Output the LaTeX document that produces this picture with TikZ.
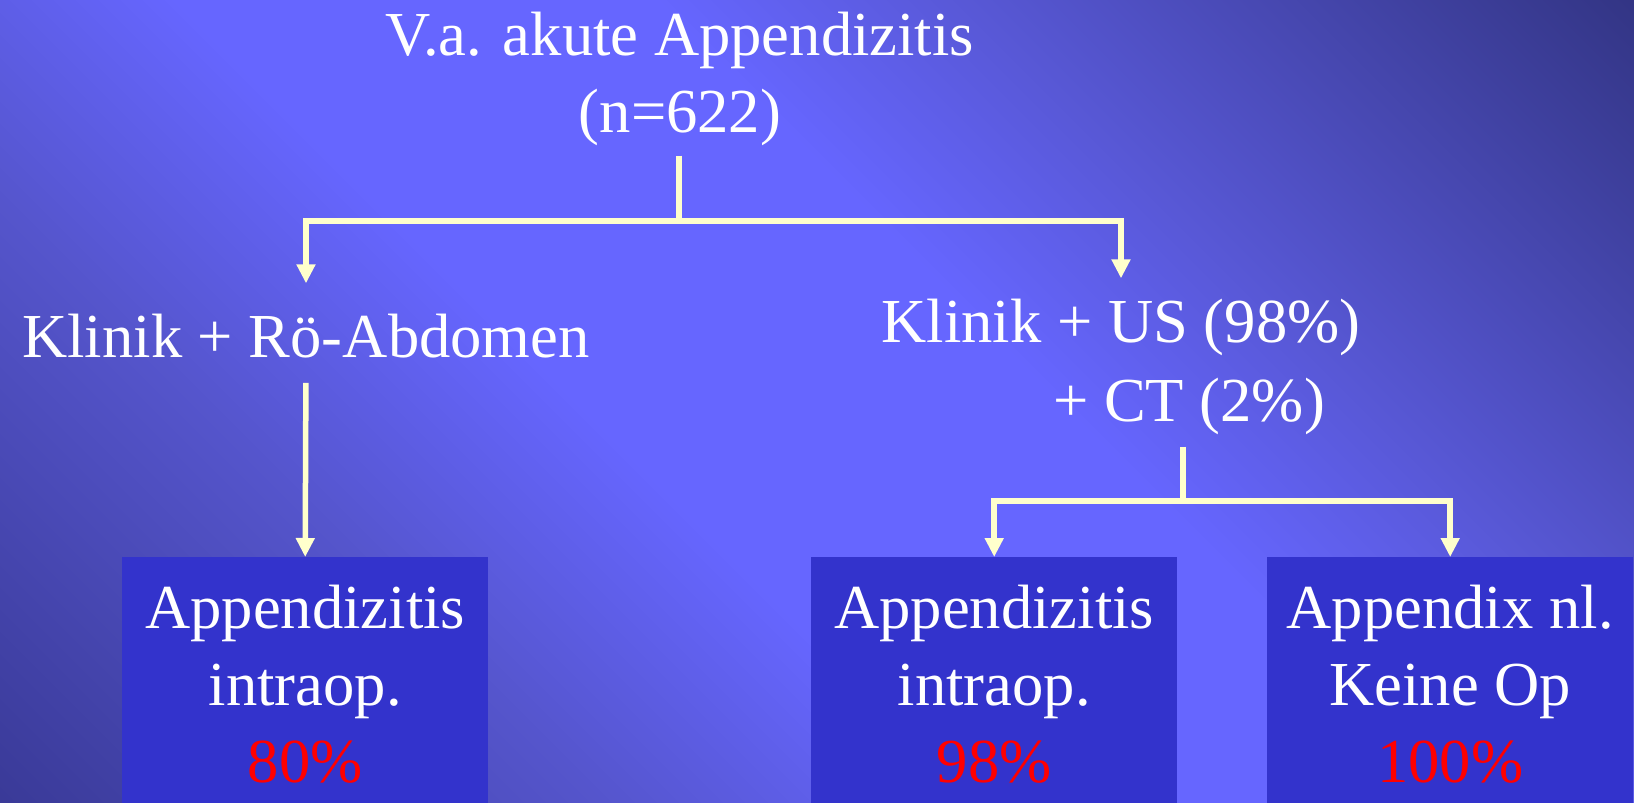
\documentclass[tikz,border=0pt]{standalone}
\usepackage{fontspec}
\setmainfont{Liberation Serif}
\usetikzlibrary{arrows.meta}
\definecolor{SlideBlue}{RGB}{102,102,255}
\definecolor{SlideDarkA}{RGB}{58,58,152}
\definecolor{SlideMidA}{RGB}{85,85,204}
\definecolor{SlideMidB}{RGB}{88,88,214}
\definecolor{SlideDarkB}{RGB}{51,53,133}
\definecolor{BoxBlue}{RGB}{51,51,204}
\definecolor{ArrowYellow}{RGB}{255,255,204}
\definecolor{PctRed}{RGB}{255,0,0}
% background: bright band along the diagonal, darker corners
\pgfdeclareverticalshading{slidebg}{100bp}{color(0bp)=(SlideDarkA); color(14.6bp)=(SlideDarkA); color(32bp)=(SlideMidA); color(43bp)=(SlideBlue); color(57bp)=(SlideBlue); color(66bp)=(SlideMidB); color(85.4bp)=(SlideDarkB); color(100bp)=(SlideDarkB)}
\tikzset{
	>={Triangle[width=18pt,length=19pt]},
	flowline/.style={ArrowYellow, line width=5.5pt},
	flow/.style={flowline, ->},
	slidetext/.style={text=white, inner sep=0pt, align=center, font=\fontsize{62.6}{77}\selectfont},
	resbox/.style={fill=BoxBlue, inner sep=0pt, minimum width=366pt, minimum height=246pt, anchor=north west},
}

\begin{document}
\begin{tikzpicture}[x=1pt,y=-1pt]
		\shade[shading=slidebg, shading angle=-45] (0,0) rectangle (1634,803);
		\useasboundingbox (0,0) rectangle (1634,803);
		
		% question and the two work-ups (base = last line)
		\node[slidetext, anchor=base] (title) at (680,132) {V.a. akute Appendizitis\\(n=622)};
		\node[slidetext, anchor=base] (klinikA) at (306,357) {Klinik + Rö-Abdomen};
		\node[slidetext, anchor=base] (klinikB) at (1121,342) {Klinik + US (98\%)};
		\node[slidetext, anchor=base] (ct) at (1189,421) {+ CT (2\%)};
		
		% result boxes
		\node[resbox] (r1) at (122,557) {};
		\node[resbox] (r2) at (811,557) {};
		\node[resbox] (r3) at (1267,557) {};
		\node[slidetext, anchor=base] (r1text) at ([yshift=-225pt]r1.north) {Appendizitis\\intraop.\\\textcolor{PctRed}{80\%}};
		\node[slidetext, anchor=base] (r2text) at ([yshift=-225pt]r2.north) {Appendizitis\\intraop.\\\textcolor{PctRed}{98\%}};
		\node[slidetext, anchor=base] (r3text) at ([yshift=-225pt]r3.north) {Appendix nl.\\Keine Op\\\textcolor{PctRed}{100\%}};
		
		% upper fork
		\coordinate (fork1) at (679,221);
		\draw[flowline] ([yshift=-10pt]title.south -| fork1) -- (fork1);
		\draw[flow, shorten >=30pt] (fork1) -| (klinikA.north);
		\draw[flow, shorten >=20pt] (fork1) -| (klinikB.north);
		
		% left branch
		\draw[flow, shorten <=25pt] (klinikA.south) -- (r1.north);
		
		% lower fork
		\coordinate (fork2) at (1183,501);
		\draw[flowline] ([yshift=-12pt]ct.south -| fork2) -- (fork2);
		\draw[flow] (fork2) -| (r2.north);
		\draw[flow] (fork2) -| (r3.north);
	\end{tikzpicture}
\end{document}
